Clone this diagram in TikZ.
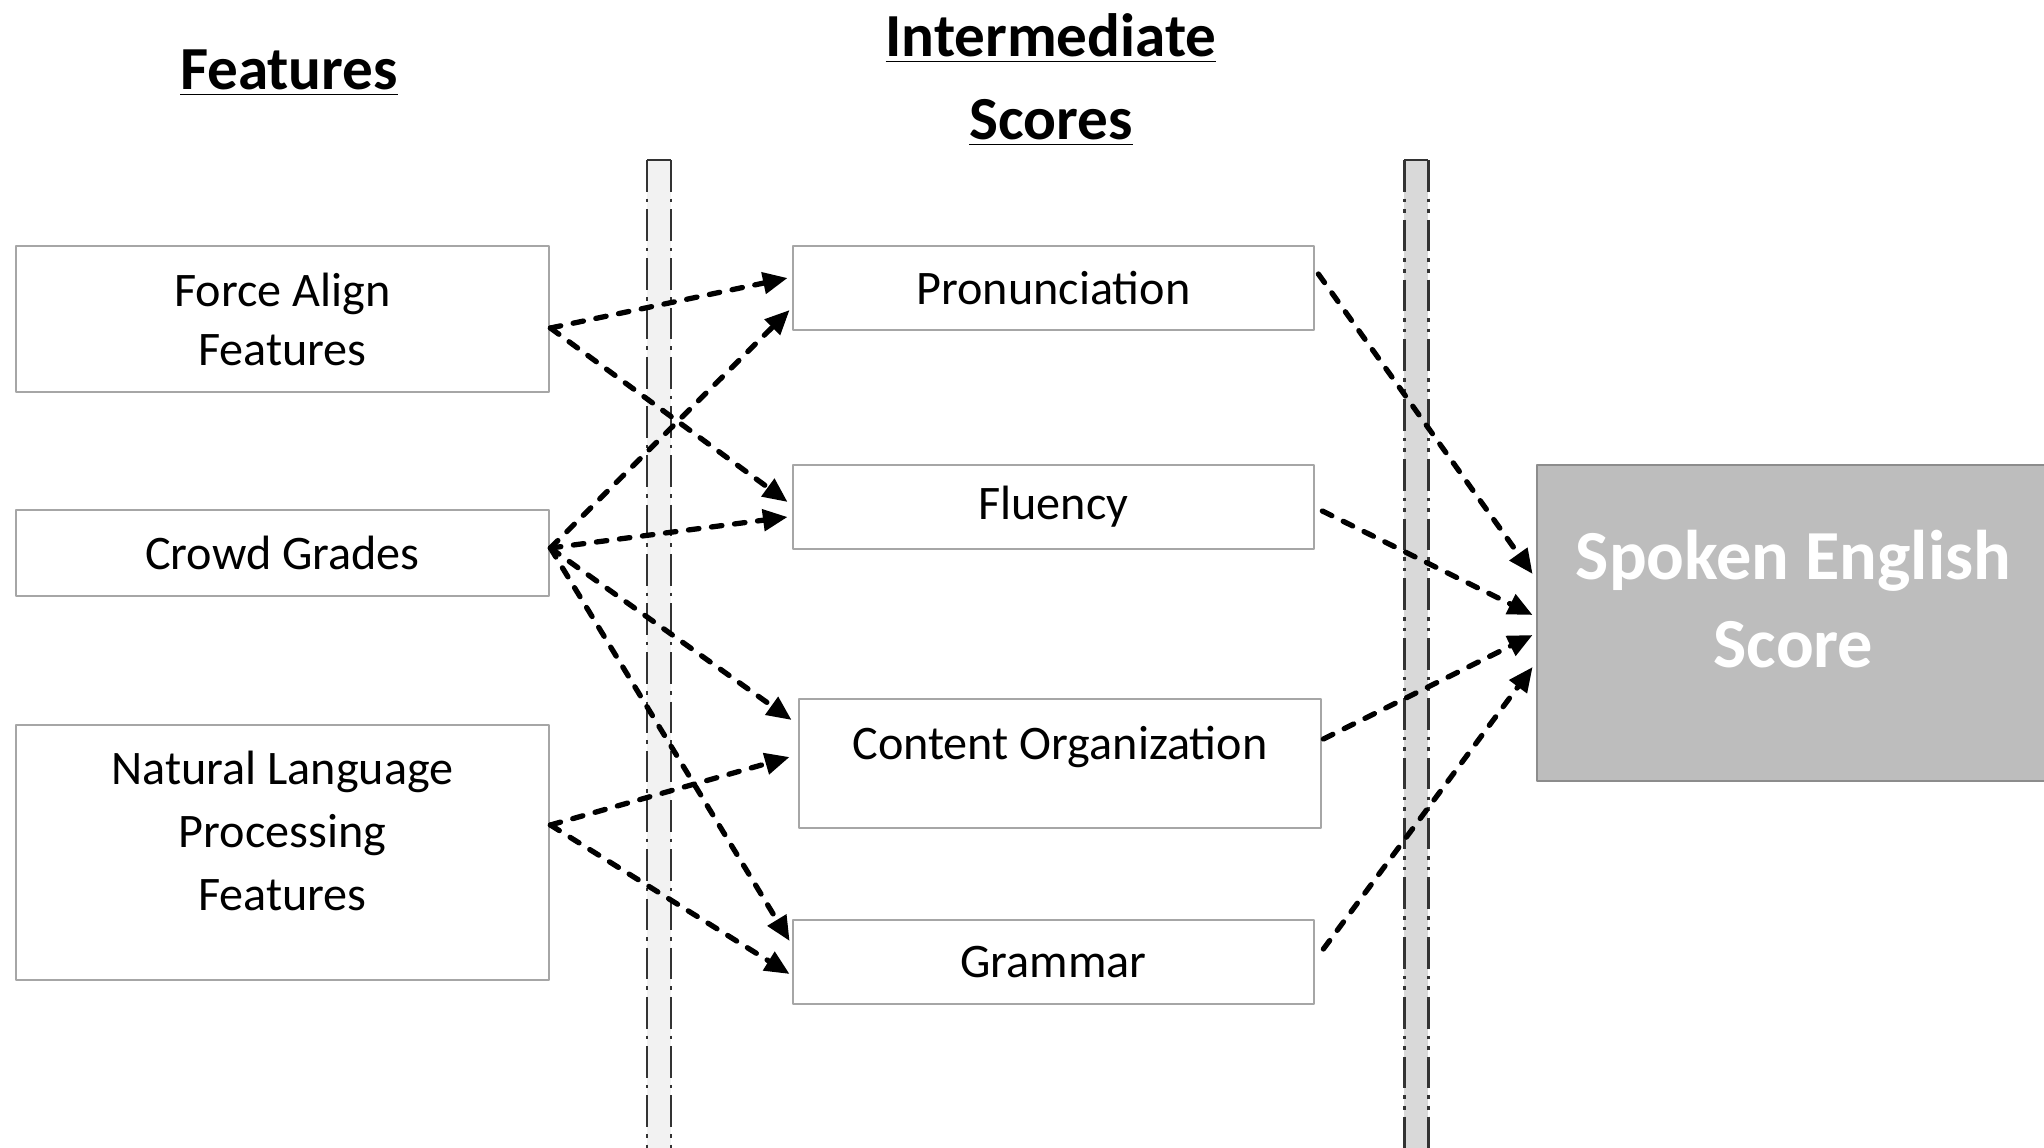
\documentclass[tikz,border=0pt]{standalone}
\usepackage{fontspec}
\setmainfont{Carlito}
\usepackage{tikz}
\usetikzlibrary{arrows.meta}
\usetikzlibrary{calc}
\definecolor{BoxGray}{HTML}{A6A6A6}
\definecolor{BarLight}{HTML}{F2F2F2}
\definecolor{BarDark}{HTML}{D9D9D9}
\definecolor{BarEdge}{HTML}{333333}
\definecolor{ScoreGray}{HTML}{BDBDBD}
\definecolor{ScoreEdge}{HTML}{8C8C8C}

\begin{document}
\begin{tikzpicture}[x=0.01cm,y=-0.01cm,line join=round,
  box/.style={draw=BoxGray,line width=.7pt,inner sep=0pt,align=center,font=\fontsize{13.7}{16.8}\selectfont},
  link/.style={line width=1.5pt,line cap=round,dash pattern=on 3pt off 3.6pt,-{Triangle[length=7pt,width=6pt]}},
  bar/.style={line width=.85pt,color=BarEdge}]
\clip (0,0) rectangle (2044,1148);
% \draw[step=100,gray,very thin] (0,0) grid (2044,1148);

% headings
\draw (289,89) node[anchor=base,font=\fontsize{17.4}{21}\selectfont\bfseries](feat){\underline{Features}};
\draw (1051,80) node[align=center,font=\fontsize{17.4}{23.6}\selectfont\bfseries](inter){\underline{Intermediate}\\\underline{Scores}};

% separators
\fill[BarLight] (647,160) rectangle (671,1160);
\draw[bar] (647,160) -- (671,160);
\draw[bar,dash pattern=on 9pt off 2pt on 1pt off 2pt] (647,160) -- (647,1160);
\draw[bar,dash pattern=on 9pt off 2pt on 1pt off 2pt] (671,160) -- (671,1160);
\fill[BarDark] (1404,160) rectangle (1428,1160);
\draw[bar] (1404,160) -- (1428,160);
\draw[bar,dash pattern=on 9pt off 2pt on 1pt off 2pt on 1pt off 2pt] (1404,160) -- (1404,1160);
\draw[bar,dash pattern=on 9pt off 2pt on 1pt off 2pt on 1pt off 2pt] (1428,160) -- (1428,1160);

% features
\draw (282.5,319) node[box,minimum width=5.33cm,minimum height=1.46cm](fa){Force Align\\Features};
\draw (282.5,553) node[box,minimum width=5.33cm,minimum height=.86cm](cg){Crowd Grades};
\draw (282.5,852.5) node[box,minimum width=5.33cm,text height=1.85cm,text depth=.70cm,font=\fontsize{13.7}{17.8}\selectfont](nlp){Natural Language\\Processing\\Features};

% intermediate scores
\draw (1053.5,288) node[box,minimum width=5.21cm,minimum height=.84cm](pron){Pronunciation};
\draw (1053.5,507) node[box,minimum width=5.21cm,minimum height=.84cm](flu){Fluency};
\draw (1060,763.5) node[box,minimum width=5.22cm,text height=.6cm,text depth=.69cm](cont){Content Organization};
\draw (1053.5,962) node[box,minimum width=5.21cm,minimum height=.84cm](gram){Grammar};

% final score
\draw (1793.5,623) node[draw=ScoreEdge,fill=ScoreGray,line width=.7pt,inner sep=0pt,minimum width=5.13cm,text height=2.02cm,text depth=1.14cm,align=center,text=white,font=\fontsize{20}{25}\selectfont\bfseries](score){Spoken English\\Score};

\path ($(fa.east)+(0,9)$) edge[link] ($(pron.west)+(-4,-10)$);
\path ($(fa.east)+(0,9)$) edge[link] ($(flu.west)+(-4,-5)$);

\path ($(cg.east)+(0,-5)$) edge[link] ($(pron.west)+(-2,22)$);
\path ($(cg.east)+(0,-5)$) edge[link] ($(flu.west)+(-4,10)$);
\path ($(cg.east)+(0,-5)$) edge[link] ($(cont.west)+(-6,-43.5)$);
\path ($(cg.east)+(0,-5)$) edge[link] ($(gram.west)+(-2,-21)$);

\path ($(nlp.east)+(0,-27.5)$) edge[link] ($(cont.west)+(-8,-6.5)$);
\path ($(nlp.east)+(0,-27.5)$) edge[link] ($(gram.west)+(-2,12)$);

\path ($(pron.east)+(3,-14)$) edge[link] ($(score.west)+(-3,-49)$);
\path ($(flu.east)+(7,4)$) edge[link] ($(score.west)+(-3,-8)$);
\path ($(cont.east)+(1,-24.5)$) edge[link] ($(score.west)+(-3,12)$);
\path ($(gram.east)+(8,-13)$) edge[link] ($(score.west)+(-3,44)$);
\end{tikzpicture}
\end{document}
